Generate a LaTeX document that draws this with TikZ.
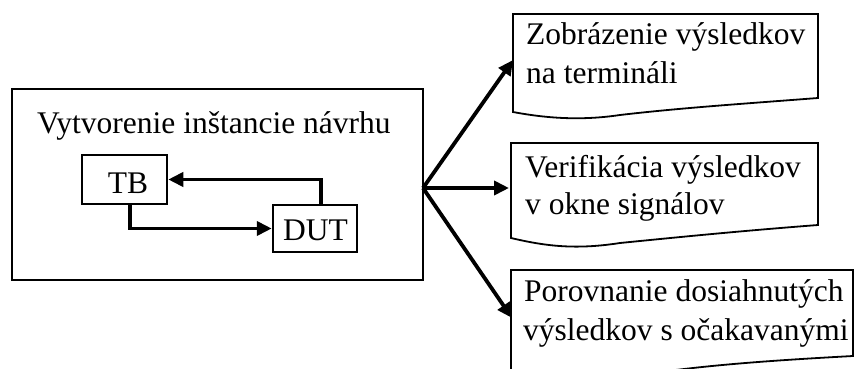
\documentclass[tikz,border=0pt]{standalone}
\usepackage{fontspec}
\setmainfont{Liberation Serif}
\usetikzlibrary{arrows.meta}
\begin{document}
\begin{tikzpicture}[x=1pt,y=-1pt,
  txt/.style={font=\fontsize{31.5}{38}\selectfont, inner sep=0pt},
  blk/.style={draw, line width=2.5pt, inner sep=0pt},
  doc/.style={draw, line width=1.8pt},
  arr/.style={line width=3.8pt, -{Triangle[length=15pt,width=14pt]}}]
\useasboundingbox (0,0) rectangle (855,369);
\clip (0,0) rectangle (855,369);
% main box
\node[blk, minimum width=411pt, minimum height=191pt] (main) at (217.5,184.5) {};
\node[txt, anchor=base west] (title) at (37,133) {Vytvorenie inštancie návrhu};
\node[blk, minimum width=85pt, minimum height=49pt] (TB) at (124.5,179.5) {};
\node[txt, anchor=base] (tbl) at (128,193) {TB};
\node[blk, minimum width=84pt, minimum height=47pt] (DUT) at (315,228.5) {};
\node[txt, anchor=base] (dutl) at (315.5,240) {DUT};
\draw[arr] ([xshift=6pt]DUT.north) |- (TB.east);
\draw[arr] ([xshift=5.5pt]TB.south) |- (DUT.west);
% documents
\draw[doc] (513,14) -- (818,14) -- (818,98) .. controls (740,104) and (680,108) .. (620,115) .. controls (580,121) and (545,118) .. (513,112) -- cycle;
\draw[doc] (511,143) -- (818,143) -- (818,225) .. controls (740,231) and (680,237) .. (620,243) .. controls (575,250) and (545,246) .. (511,238) -- cycle;
\draw[doc] (511,270) -- (853,270) -- (853,356) .. controls (780,360) and (720,364) .. (660,372) .. controls (610,378) and (560,378) .. (511,372) -- cycle;
\node[txt, anchor=base west] (d1a) at (526,45) {Zobrázenie výsledkov};
\node[txt, anchor=base west] (d1b) at (526,84) {na termináli};
\node[txt, anchor=base west] (d2a) at (525,177) {Verifikácia výsledkov};
\node[txt, anchor=base west] (d2b) at (525,214) {v okne signálov};
\node[txt, anchor=base west] (d3a) at (524,301) {Porovnanie dosiahnutých};
\node[txt, anchor=base west] (d3b) at (523,340) {výsledkov s očakavanými};
% fan arrows
\coordinate (fan) at (423,188);
\coordinate (t1) at (513,60);
\coordinate (t2) at (509,188);
\coordinate (t3) at (512,318);
\draw[arr] (fan) -- (t1);
\draw[arr] (fan) -- (t2);
\draw[arr] (fan) -- (t3);
\end{tikzpicture}
\end{document}
